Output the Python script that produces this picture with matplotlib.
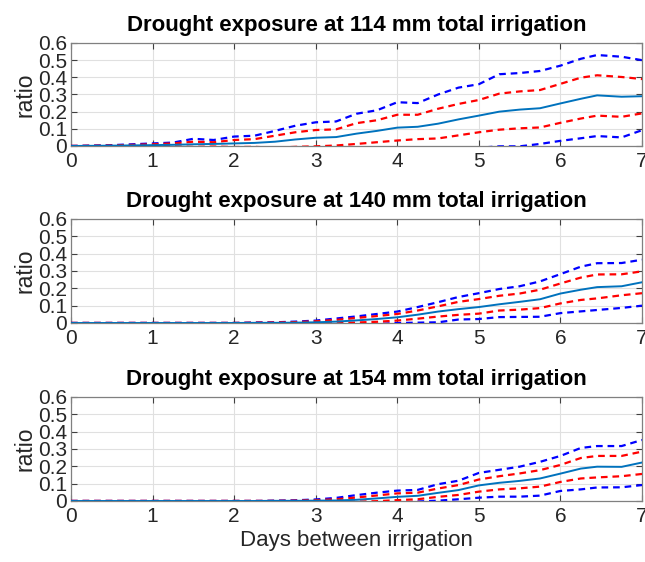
import matplotlib
matplotlib.use("Agg")
import matplotlib.pyplot as plt
import numpy as np

plt.rcParams['font.family'] = ['Liberation Sans', 'DejaVu Sans']

x = [0, 0.5, 1, 1.25, 1.5, 1.75, 2, 2.25, 2.5, 2.75, 3, 3.25, 3.5, 3.75, 4, 4.25,
     4.5, 4.75, 5, 5.25, 5.5, 5.75, 6, 6.25, 6.45, 6.75, 7]

titles = ["Drought exposure at 114 mm total irrigation",
          "Drought exposure at 140 mm total irrigation",
          "Drought exposure at 154 mm total irrigation"]

# 114 mm
mean_114 = [0, 0.002, 0.005, 0.007, 0.010, 0.012, 0.015, 0.018, 0.025, 0.038, 0.048, 0.052, 0.072, 0.088,
            0.107, 0.112, 0.130, 0.155, 0.177, 0.200, 0.212, 0.220, 0.248, 0.275, 0.295, 0.287, 0.290]
hi1_114 = [0, 0.003, 0.010, 0.015, 0.025, 0.022, 0.035, 0.040, 0.060, 0.080, 0.093, 0.097, 0.133, 0.150,
           0.182, 0.182, 0.217, 0.245, 0.268, 0.305, 0.318, 0.326, 0.362, 0.398, 0.412, 0.402, 0.390]
lo1_114 = [0, -0.001, -0.001, -0.002, -0.005, -0.003, -0.006, -0.005, -0.010, -0.005, -0.002, 0.003, 0.012, 0.022,
           0.032, 0.040, 0.044, 0.062, 0.080, 0.095, 0.103, 0.108, 0.135, 0.160, 0.177, 0.170, 0.190]
hi2_114 = [0, 0.005, 0.015, 0.020, 0.042, 0.035, 0.055, 0.060, 0.088, 0.118, 0.138, 0.143, 0.188, 0.208,
           0.255, 0.250, 0.300, 0.340, 0.360, 0.418, 0.425, 0.437, 0.468, 0.508, 0.530, 0.520, 0.500]
lo2_114 = [0, -0.003, -0.005, -0.008, -0.020, -0.012, -0.025, -0.025, -0.040, -0.045, -0.045, -0.040, -0.045, -0.030,
           -0.040, -0.030, -0.040, -0.030, -0.010, -0.002, -0.002, 0.012, 0.030, 0.045, 0.058, 0.050, 0.092]

# 140 mm
mean_140 = [0, 0, 0, 0, 0, 0, 0, 0.001, 0.001, 0.002, 0.004, 0.008, 0.015, 0.023,
            0.033, 0.048, 0.066, 0.080, 0.092, 0.108, 0.122, 0.137, 0.170, 0.192, 0.207, 0.212, 0.235]
hi1_140 = [0, 0, 0, 0, 0, 0, 0, 0.002, 0.003, 0.005, 0.010, 0.018, 0.029, 0.040,
           0.052, 0.072, 0.096, 0.122, 0.138, 0.157, 0.170, 0.192, 0.228, 0.262, 0.280, 0.281, 0.298]
lo1_140 = [0, 0, 0, 0, 0, 0, 0, -0.001, -0.001, -0.001, -0.002, -0.002, 0.003, 0.007,
           0.014, 0.025, 0.037, 0.047, 0.054, 0.072, 0.077, 0.086, 0.113, 0.133, 0.142, 0.160, 0.172]
hi2_140 = [0, 0, 0, 0, 0, 0, 0, 0.003, 0.004, 0.008, 0.014, 0.026, 0.038, 0.052,
           0.066, 0.092, 0.120, 0.150, 0.172, 0.196, 0.212, 0.240, 0.282, 0.325, 0.345, 0.346, 0.365]
lo2_140 = [0, 0, 0, 0, 0, 0, 0, -0.002, -0.002, -0.004, -0.006, -0.010, -0.010, -0.006,
           0.000, 0.002, 0.004, 0.020, 0.023, 0.034, 0.035, 0.036, 0.057, 0.067, 0.075, 0.087, 0.100]

# 154 mm
mean_154 = [0, 0, 0, 0, 0, 0, 0, 0, 0.001, 0.001, 0.002, 0.003, 0.007, 0.015,
            0.024, 0.030, 0.047, 0.063, 0.090, 0.105, 0.116, 0.130, 0.158, 0.187, 0.198, 0.197, 0.222]
hi1_154 = [0, 0, 0, 0, 0, 0, 0, 0, 0.001, 0.002, 0.005, 0.010, 0.020, 0.032,
           0.044, 0.048, 0.072, 0.092, 0.124, 0.143, 0.159, 0.178, 0.208, 0.248, 0.260, 0.260, 0.285]
lo1_154 = [0, 0, 0, 0, 0, 0, 0, 0, -0.001, -0.001, -0.001, -0.003, -0.004, -0.001,
           0.005, 0.010, 0.024, 0.035, 0.054, 0.067, 0.073, 0.083, 0.110, 0.130, 0.136, 0.143, 0.156]
hi2_154 = [0, 0, 0, 0, 0, 0, 0, 0, 0.002, 0.004, 0.009, 0.018, 0.034, 0.048,
           0.060, 0.064, 0.097, 0.117, 0.162, 0.180, 0.198, 0.226, 0.260, 0.306, 0.317, 0.317, 0.352]
lo2_154 = [0, 0, 0, 0, 0, 0, 0, 0, -0.002, -0.003, -0.004, -0.010, -0.018, -0.015,
           -0.012, -0.003, 0.002, 0.010, 0.019, 0.025, 0.025, 0.031, 0.058, 0.067, 0.078, 0.079, 0.092]

datasets = [
    (mean_114, hi1_114, lo1_114, hi2_114, lo2_114),
    (mean_140, hi1_140, lo1_140, hi2_140, lo2_140),
    (mean_154, hi1_154, lo1_154, hi2_154, lo2_154),
]

W, H = 645, 562
fig = plt.figure(figsize=(W / 100, H / 100), dpi=100)

left, right = 71, 642
tops_bottoms = [(43, 146), (219, 323), (397, 501)]

for (top, bot), title, (m, h1, l1, h2, l2) in zip(tops_bottoms, titles, datasets):
    ax = fig.add_axes([left / W, 1 - bot / H, (right - left) / W, (bot - top) / H])
    ax.plot(x, h2, color='#0000ff', ls=(0, (3, 2.2)), lw=1.6, zorder=3)
    ax.plot(x, l2, color='#0000ff', ls=(0, (3, 2.2)), lw=1.6, zorder=3)
    ax.plot(x, h1, color='#ff0000', ls=(0, (3, 2.2)), lw=1.6, zorder=3)
    ax.plot(x, l1, color='#ff0000', ls=(0, (3, 2.2)), lw=1.6, zorder=3)
    ax.plot(x, m, color='#0072BD', ls='-', lw=1.4, zorder=4)
    ax.set_xlim(0, 7)
    ax.set_ylim(0, 0.6)
    ax.set_xticks(range(0, 8))
    ax.set_yticks([0, 0.1, 0.2, 0.3, 0.4, 0.5, 0.6])
    ax.set_yticklabels(['0', '0.1', '0.2', '0.3', '0.4', '0.5', '0.6'])
    ax.grid(True, color='#e0e0e0', lw=0.8)
    ax.set_axisbelow(True)
    for s in ax.spines.values():
        s.set_color('#808080')
        s.set_linewidth(0.9)
    ax.tick_params(direction='in', length=4, width=0.8, color='#404040',
                   labelsize=15, top=True, right=True, pad=3,
                   labelcolor='#262626')
    ax.tick_params(axis='x', pad=4)
    ax.set_ylabel('ratio', fontsize=16.5, color='#262626', labelpad=1)
    ax.set_title(title, fontsize=16, fontweight='bold', pad=9)

ax.set_xlabel('Days between irrigation', fontsize=16, color='#262626', labelpad=3)

fig.savefig('out.png', dpi=100)
